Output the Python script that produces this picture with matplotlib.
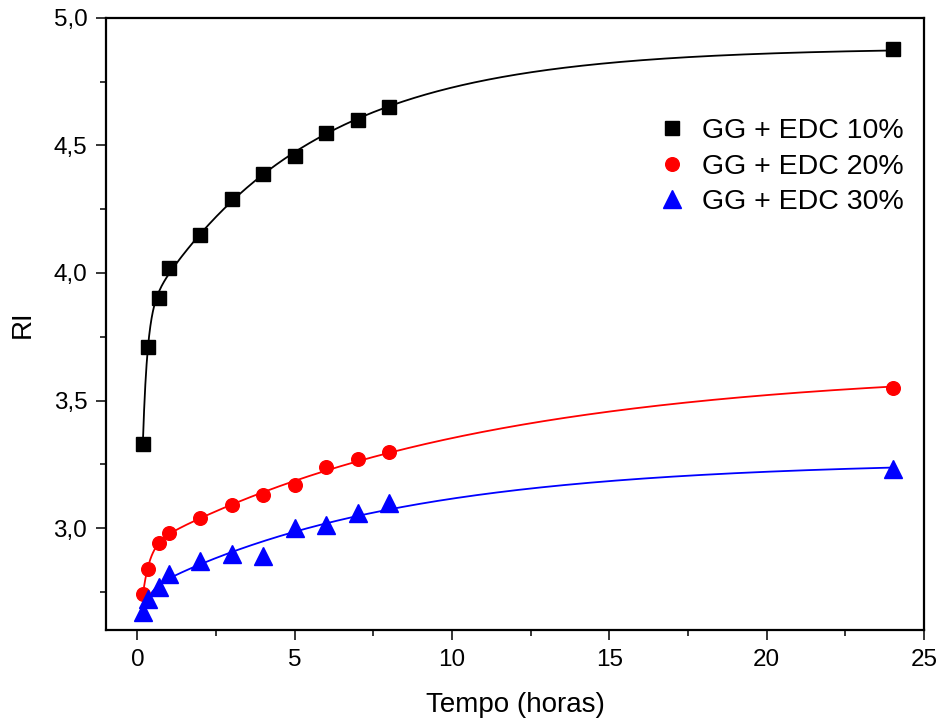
import numpy as np
import matplotlib
matplotlib.use("Agg")
import matplotlib.pyplot as plt
from matplotlib.ticker import MultipleLocator, FuncFormatter

plt.rcParams['font.family'] = ['Liberation Sans', 'DejaVu Sans']

tempo = [0.17, 0.33, 0.67, 1, 2, 3, 4, 5, 6, 7, 8, 24]
ri_10 = [3.33, 3.71, 3.90, 4.02, 4.15, 4.29, 4.39, 4.46, 4.55, 4.60, 4.65, 4.88]
ri_20 = [2.74, 2.84, 2.94, 2.98, 3.04, 3.09, 3.13, 3.17, 3.24, 3.27, 3.30, 3.55]
ri_30 = [2.67, 2.72, 2.77, 2.82, 2.87, 2.90, 2.89, 3.00, 3.01, 3.06, 3.10, 3.23]

labels = ['GG + EDC 10%', 'GG + EDC 20%', 'GG + EDC 30%']
colors = ['black', 'red', 'blue']
markers = ['s', 'o', '^']
msizes = [9.5, 9.8, 12.5]


def fit_double_exp(x, y):
    x = np.asarray(x, float)
    y = np.asarray(y, float)
    best = None
    for t1 in np.logspace(-2, 1, 50):
        for t2 in np.logspace(-1, 2, 50):
            if t2 <= t1:
                continue
            A = np.column_stack([np.ones_like(x), 1 - np.exp(-x / t1), 1 - np.exp(-x / t2)])
            coef, *_ = np.linalg.lstsq(A, y, rcond=None)
            sse = np.sum((A @ coef - y) ** 2)
            if best is None or sse < best[0]:
                best = (sse, t1, t2, coef)
    _, t1, t2, c = best
    return lambda t: c[0] + c[1] * (1 - np.exp(-t / t1)) + c[2] * (1 - np.exp(-t / t2))


fig = plt.figure(figsize=(9.4, 7.22), dpi=100)
ax = fig.add_axes([0.1128, 0.1274, 0.8702, 0.8477])

xs = np.linspace(min(tempo), max(tempo), 600)
for ys, lab, col, mk, ms in zip([ri_10, ri_20, ri_30], labels, colors, markers, msizes):
    f = fit_double_exp(tempo, ys)
    ax.plot(xs, f(xs), color=col, lw=1.3, zorder=2)
    ax.plot(tempo, ys, linestyle='none', marker=mk, color=col, markersize=ms,
            label=lab, zorder=3)

ax.set_xlim(-1, 25)
ax.set_ylim(2.6, 5.0)
ax.xaxis.set_major_locator(MultipleLocator(5))
ax.xaxis.set_minor_locator(MultipleLocator(2.5))
ax.yaxis.set_major_locator(MultipleLocator(0.5))
ax.yaxis.set_minor_locator(MultipleLocator(0.25))
ax.yaxis.set_major_formatter(FuncFormatter(lambda v, p: f"{v:.1f}".replace('.', ',')))
ax.tick_params(which='major', direction='out', length=7.5, width=1.1, labelsize=17.5, pad=6)
ax.tick_params(which='minor', direction='out', length=4, width=1.1)
for s in ax.spines.values():
    s.set_linewidth(1.6)

ax.set_xlabel('Tempo (horas)', fontsize=20, labelpad=15)
ax.set_ylabel('RI', fontsize=20, labelpad=13)

ax.legend(loc='upper left', bbox_to_anchor=(0.675, 0.836), frameon=False,
          fontsize=20.5, handlelength=1.0, handletextpad=0.55, labelspacing=0.33,
          borderpad=0, borderaxespad=0, markerscale=1.0)

fig.savefig('out.png', dpi=100)
